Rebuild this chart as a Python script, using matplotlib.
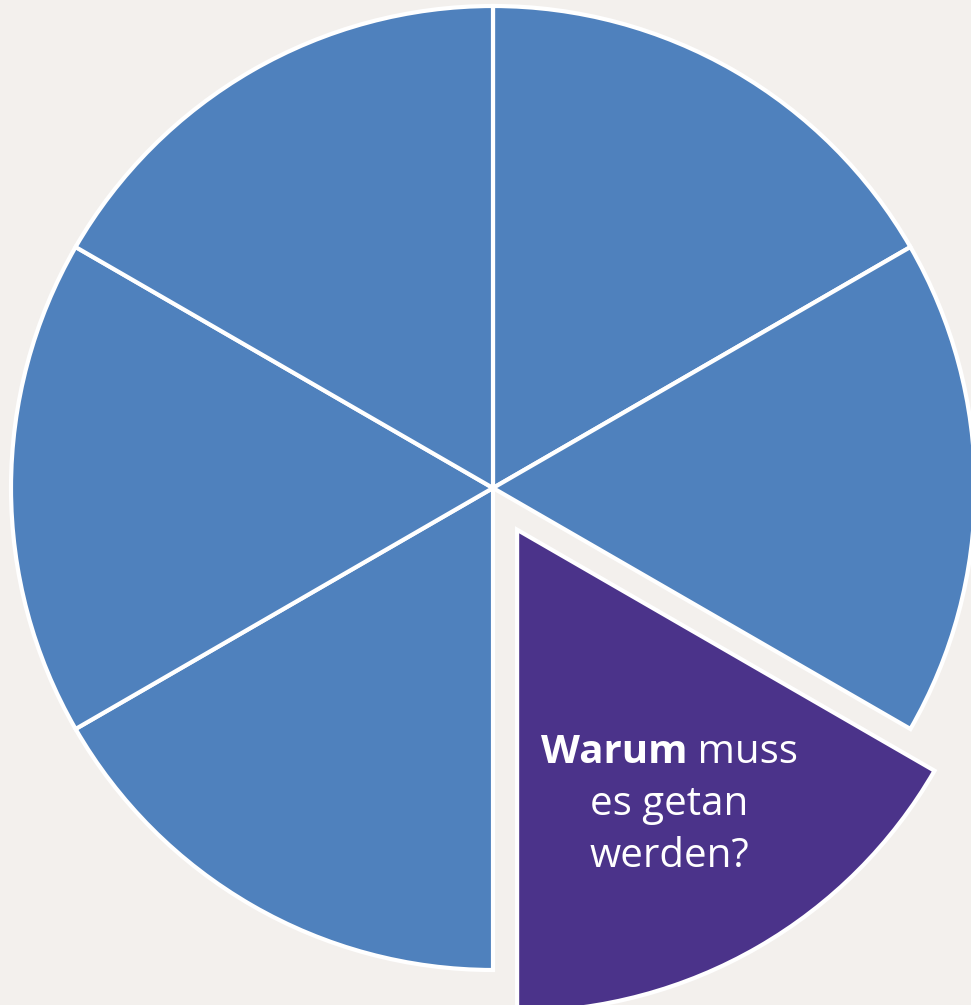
import numpy as np
import matplotlib
matplotlib.use("Agg")
import matplotlib.pyplot as plt

plt.rcParams['font.family'] = ['Open Sans', 'DejaVu Sans']

# six equal segments, clockwise from 12 o'clock
segments = ["", "", "Warum muss es getan werden?", "", "", ""]
values = [1, 1, 1, 1, 1, 1]
colors = ["#4F81BD", "#4F81BD", "#4B338A", "#4F81BD", "#4F81BD", "#4F81BD"]
explode = [0, 0, 0.1, 0, 0, 0]   # fraction of radius
highlight = 2

bg = "#F3F0ED"
fig = plt.figure(figsize=(9.71, 10.05), dpi=100, facecolor=bg)
ax = fig.add_axes([0, 0, 1, 1])
ax.set_facecolor(bg)

R = 482
wedges, _ = ax.pie(values, colors=colors, explode=[e * R for e in explode],
                   startangle=90, counterclock=False, radius=R,
                   wedgeprops=dict(edgecolor="white", linewidth=3))

# axes limits so 1 data unit = 1 pixel, pie centre at (493, 488) from top-left
ax.set_xlim(-493, 971 - 493)
ax.set_ylim(-(1005 - 488), 488)
ax.set_aspect("equal")
ax.axis("off")

# label inside the highlighted slice
w = wedges[highlight]
mid = np.deg2rad((w.theta1 + w.theta2) / 2)
cx, cy = w.center
lx = cx + 0.64 * R * np.cos(mid) - 2
ly = cy + 0.64 * R * np.sin(mid) - 8

fs = 29
lh = 52
fig.canvas.draw()
r = fig.canvas.get_renderer()
t_bold = ax.text(0, 0, "Warum", fontsize=fs, fontweight="bold", color="white",
                 ha="left", va="center")
t_reg = ax.text(0, 0, " muss", fontsize=fs, color="white", ha="left", va="center")
wb = t_bold.get_window_extent(r).width
wr = t_reg.get_window_extent(r).width
x0 = lx - (wb + wr) / 2
t_bold.set_position((x0, ly + lh))
t_reg.set_position((x0 + wb, ly + lh))
ax.text(lx, ly, "es getan", fontsize=fs, color="white", ha="center", va="center")
ax.text(lx, ly - lh, "werden?", fontsize=fs, color="white", ha="center", va="center")

fig.savefig("out.png", dpi=100, facecolor=bg)
